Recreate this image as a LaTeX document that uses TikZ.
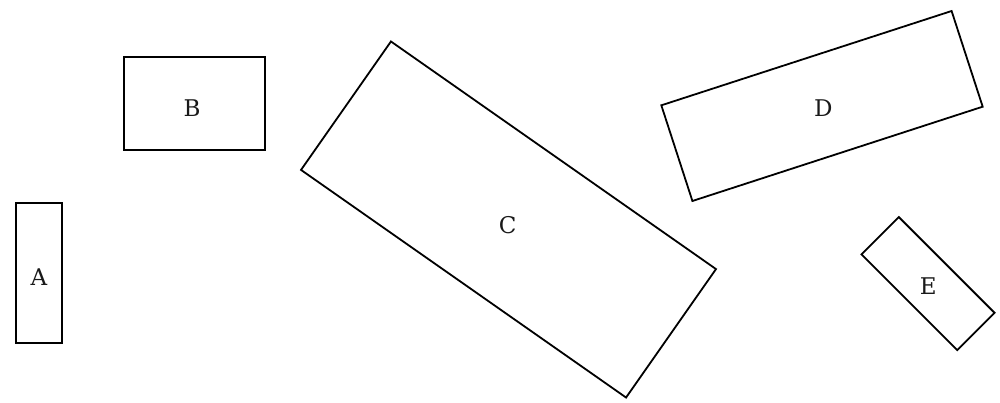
\documentclass[tikz,border=0pt]{standalone}
\usepackage{fontspec}
\setmainfont{DejaVu Serif}
\begin{document}
\begin{tikzpicture}[x=1pt,y=-1pt,
  box/.style={draw=black,line width=1.8pt,rectangle,inner sep=0pt,outer sep=0pt},
  lbl/.style={font=\fontsize{23}{25}\selectfont,text=black!90,inner sep=0pt}]
\useasboundingbox[fill=white] (0,0) rectangle (1000,403);
\node[box,minimum width=46pt,minimum height=140pt] (A) at (39,273) {};
\node[box,minimum width=140.4pt,minimum height=92.7pt] (B) at (194.5,103.7) {};
\node[box,minimum width=396.8pt,minimum height=156.8pt,rotate=-35] (C) at (508.5,219.5) {};
\node[box,minimum width=305.2pt,minimum height=100.6pt,rotate=18] (D) at (822,106) {};
\node[box,minimum width=135.3pt,minimum height=52.8pt,rotate=-45] (E) at (928,283.6) {};
\node[lbl] (tA) at (39,277) {A};
\node[lbl] (tB) at (192,108) {B};
\node[lbl] (tC) at (507.7,224.7) {C};
\node[lbl] (tD) at (823.3,108.3) {D};
\node[lbl] (tE) at (928.3,286) {E};
\end{tikzpicture}
\end{document}
